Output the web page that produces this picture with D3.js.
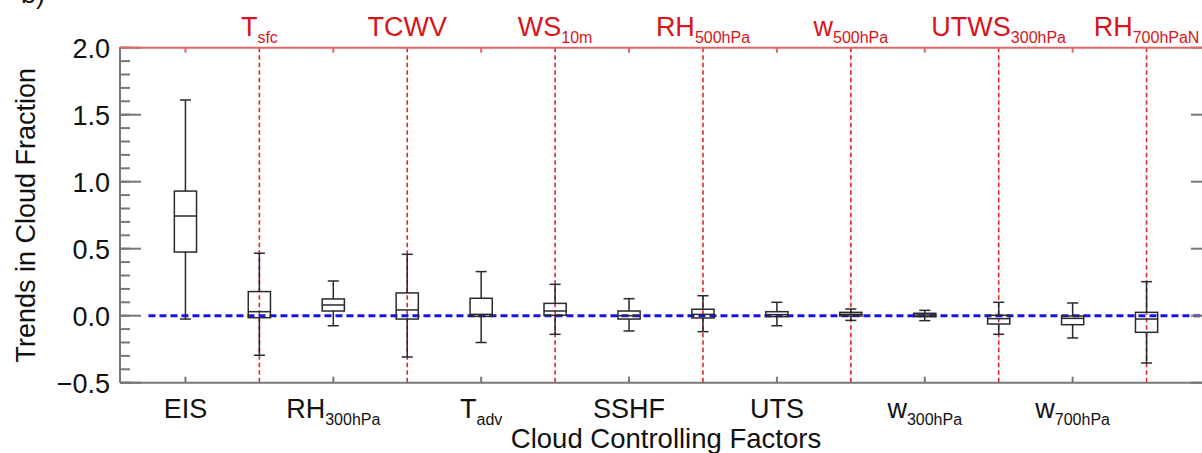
<!DOCTYPE html>
<html>
<head>
<meta charset="utf-8">
<script src="https://cdn.jsdelivr.net/npm/d3@7"></script>
<style>
  html, body { margin: 0; padding: 0; background: #fff; overflow: hidden; }
  svg { display: block; font-family: "Liberation Sans", Arial, Helvetica, sans-serif; }
</style>
</head>
<body>
<svg id="chart" width="1202" height="453"></svg>
<script>
// Cloud controlling factors, in plotting order (even index: bottom label, odd index: top label)
const factorBase = ["EIS", "T", "RH", "TCWV", "T", "WS", "SSHF", "RH", "UTS", "w", "w", "UTWS", "w", "RH"];
const factorSub  = ["", "sfc", "300hPa", "", "adv", "10m", "", "500hPa", "", "500hPa", "300hPa", "300hPa", "700hPa", "700hPaN"];

// Box-plot statistics of the cloud fraction trends
const whiskerLow  = [-0.025, -0.295, -0.075, -0.308, -0.200, -0.139, -0.114, -0.119, -0.075, -0.035, -0.037, -0.139, -0.166, -0.353];
const quartile1   = [ 0.475, -0.015,  0.035, -0.025, -0.005,  0.003, -0.025, -0.017, -0.007, -0.002, -0.007, -0.062, -0.067, -0.124];
const medianVal   = [ 0.744,  0.030,  0.080,  0.043,  0.010,  0.035,  0.000,  0.010,  0.008,  0.010,  0.005, -0.022, -0.020, -0.025];
const quartile3   = [ 0.930,  0.180,  0.125,  0.170,  0.130,  0.092,  0.035,  0.048,  0.030,  0.025,  0.018,  0.003, -0.002,  0.025];
const whiskerHigh = [ 1.610,  0.466,  0.259,  0.458,  0.329,  0.234,  0.127,  0.149,  0.100,  0.050,  0.040,  0.100,  0.095,  0.254];

const yMajorTicks = [-0.5, 0.0, 0.5, 1.0, 1.5, 2.0];
const yMinorTicks = d3.range(-0.5, 2.0001, 0.1);
const xTitle = "Cloud Controlling Factors";
const yTitle = "Trends in Cloud Fraction";

const svg = d3.select("#chart");
const plotL = 120, plotR = 1212, plotT = 47.7, plotB = 382.7;

const x = d3.scaleLinear().domain([-0.885, 13.885]).range([plotL, plotR]);
const y = d3.scaleLinear().domain([-0.5, 2.0]).range([plotB, plotT]);

const idx = d3.range(factorBase.length);
const topIdx = idx.filter(i => i % 2 === 1);
const botIdx = idx.filter(i => i % 2 === 0);

const axisGray = "#777";
const red = "#d8141a";

// red dashed separators at the top-labelled factors
svg.append("g").selectAll("line").data(topIdx).join("line")
  .attr("x1", i => x(i)).attr("x2", i => x(i))
  .attr("y1", plotT).attr("y2", plotB)
  .attr("stroke", "#e3262b").attr("stroke-width", 1.6)
  .attr("stroke-dasharray", "4.5,3");

// zero reference line
svg.append("line")
  .attr("x1", x(-0.5)).attr("x2", plotR)
  .attr("y1", y(0)).attr("y2", y(0))
  .attr("stroke", "#1414f0").attr("stroke-width", 3)
  .attr("stroke-dasharray", "7,4");

// box plots
const boxW = 0.3, capW = 0.15;
const boxes = svg.append("g").attr("fill", "none").attr("stroke", "#2a2a2a").attr("stroke-width", 1.5);
idx.forEach(i => {
  const g = boxes.append("g");
  const cx = x(i);
  const hw = (x(boxW) - x(0)) / 2, cw = (x(capW) - x(0)) / 2;
  g.append("line").attr("x1", cx).attr("x2", cx).attr("y1", y(whiskerHigh[i])).attr("y2", y(quartile3[i]));
  g.append("line").attr("x1", cx).attr("x2", cx).attr("y1", y(quartile1[i])).attr("y2", y(whiskerLow[i]));
  g.append("line").attr("x1", cx - cw).attr("x2", cx + cw).attr("y1", y(whiskerHigh[i])).attr("y2", y(whiskerHigh[i]));
  g.append("line").attr("x1", cx - cw).attr("x2", cx + cw).attr("y1", y(whiskerLow[i])).attr("y2", y(whiskerLow[i]));
  g.append("rect").attr("x", cx - hw).attr("width", 2 * hw)
    .attr("y", y(quartile3[i])).attr("height", Math.max(0.5, y(quartile1[i]) - y(quartile3[i])));
  g.append("line").attr("x1", cx - hw).attr("x2", cx + hw).attr("y1", y(medianVal[i])).attr("y2", y(medianVal[i]));
});

// left axis with major/minor ticks
const ax = svg.append("g").attr("stroke", axisGray).attr("stroke-width", 2);
ax.append("line").attr("x1", plotL).attr("x2", plotL).attr("y1", plotT).attr("y2", plotB);
ax.selectAll(".minL").data(yMinorTicks).join("line")
  .attr("x1", plotL).attr("x2", plotL + 10).attr("y1", d => y(d)).attr("y2", d => y(d));
ax.selectAll(".majL").data(yMajorTicks).join("line")
  .attr("x1", plotL).attr("x2", plotL + 21).attr("y1", d => y(d)).attr("y2", d => y(d));
// right axis mirrored
ax.append("line").attr("x1", plotR).attr("x2", plotR).attr("y1", plotT).attr("y2", plotB);
ax.selectAll(".minR").data(yMinorTicks).join("line")
  .attr("x1", plotR).attr("x2", plotR - 10).attr("y1", d => y(d)).attr("y2", d => y(d));
ax.selectAll(".majR").data(yMajorTicks).join("line")
  .attr("x1", plotR).attr("x2", plotR - 21).attr("y1", d => y(d)).attr("y2", d => y(d));
// bottom axis
ax.append("line").attr("x1", plotL).attr("x2", plotR).attr("y1", plotB).attr("y2", plotB);
ax.selectAll(".tickB").data(botIdx).join("line")
  .attr("x1", i => x(i)).attr("x2", i => x(i)).attr("y1", plotB).attr("y2", plotB - 6);

// top axis in red
const tx = svg.append("g").attr("stroke", "#e46464").attr("stroke-width", 2);
tx.append("line").attr("x1", plotL - 1).attr("x2", 1202).attr("y1", plotT).attr("y2", plotT);
tx.selectAll("line.t").data(botIdx).join("line").attr("class", "t")
  .attr("x1", i => x(i)).attr("x2", i => x(i)).attr("y1", plotT).attr("y2", plotT + 5);

// y tick labels
svg.append("g").selectAll("text").data(yMajorTicks).join("text")
  .attr("x", 110).attr("y", d => y(d) + 10)
  .attr("text-anchor", "end").attr("font-size", 27).attr("fill", "#111")
  .text(d => d3.format(".1f")(d).replace("-", "\u2212"));

// factor labels with subscripts
function factorLabel(sel, yBase, color) {
  sel.attr("text-anchor", "middle").attr("font-size", 27).attr("fill", color)
    .attr("x", i => x(i)).attr("y", yBase);
  sel.append("tspan").text(i => factorBase[i]);
  sel.append("tspan").attr("dy", 7).attr("font-size", 16).text(i => factorSub[i]);
}
svg.append("g").selectAll("text").data(topIdx).join("text").call(factorLabel, 36, red);
svg.append("g").selectAll("text").data(botIdx).join("text").call(factorLabel, 418, "#111");

// axis titles
svg.append("text").attr("x", (plotL + plotR) / 2).attr("y", 448)
  .attr("text-anchor", "middle").attr("font-size", 27.5).attr("fill", "#111").text(xTitle);
svg.append("text").attr("transform", `translate(35,${(plotT + plotB) / 2}) rotate(-90)`)
  .attr("text-anchor", "middle").attr("font-size", 27).attr("fill", "#111").text(yTitle);

// panel letter, partly above the top edge
svg.append("text").attr("x", 45).attr("y", 3).attr("text-anchor", "end")
  .attr("font-size", 27).attr("fill", "#111").text("b)");
</script>
</body>
</html>
